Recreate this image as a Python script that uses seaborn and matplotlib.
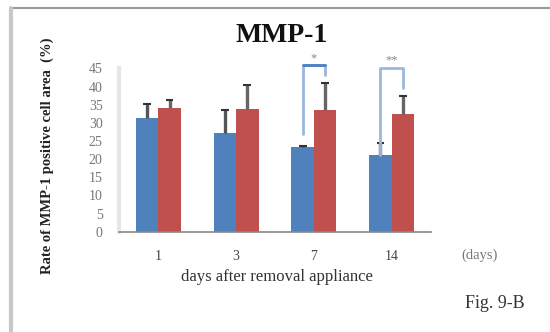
import numpy as np
import pandas as pd
import seaborn as sns
import matplotlib.pyplot as plt
from matplotlib.lines import Line2D

days = ["1", "3", "7", "14"]
groups = ["control", "treated"]
blue_mean = [31.3, 27.2, 23.4, 21.1]
blue_err = [4.0, 6.2, 0.3, 3.3]
red_mean = [34.1, 33.8, 33.6, 32.5]
red_err = [2.1, 6.5, 7.3, 5.0]
yticks = [0, 5, 10, 15, 20, 25, 30, 35, 40, 45]

df = pd.DataFrame({
    "day": days * 2,
    "group": [groups[0]] * 4 + [groups[1]] * 4,
    "rate": blue_mean + red_mean,
    "err": blue_err + red_err,
})

sns.set_style("white")
plt.rcParams["font.family"] = ["Liberation Serif", "DejaVu Serif"]

fig = plt.figure(figsize=(5.5, 3.32), dpi=100)
ax = fig.add_axes([0.217, 0.302, 0.566, 0.492])

sns.barplot(data=df, x="day", y="rate", hue="group", order=days,
            hue_order=groups, palette=["#4F81BD", "#C0504D"],
            width=0.58, gap=0, errorbar=None, legend=False, ax=ax,
            saturation=1, linewidth=0)

# upward-only error bars
w = 0.58 / 2
xs = np.arange(len(days))
for off, mean, err, col in [(-w / 2, blue_mean, blue_err, "#555555"),
                            (w / 2, red_mean, red_err, "#666666")]:
    top = np.array(mean) + np.array(err)
    ax.vlines(xs + off, mean, top, color=col, lw=2.4)
    ax.hlines(top, xs + off - 0.05, xs + off + 0.05, color="#333333", lw=1.5)

ax.set_ylim(0, 45)
ax.set_xlim(-0.5, 3.5)
ax.set_yticks(yticks)
ax.set_yticklabels([str(v) for v in yticks], color="#777777", fontsize=10)
ax.tick_params(axis="y", length=4, direction="in", color="#666666", pad=12)
ax.tick_params(axis="x", length=0, pad=13, labelsize=10, labelcolor="#444444")
ax.set_xticks(xs, days)
ax.set_xticks([0.5, 1.5, 2.5], minor=True)
ax.tick_params(axis="x", which="minor", length=4, direction="in",
               color="#DDDDDD", width=2)
ax.set_xlabel("")
ax.set_ylabel("")
for s in ["top", "right"]:
    ax.spines[s].set_visible(False)
ax.spines["left"].set_color("#E6E6E6")
ax.spines["left"].set_linewidth(3)
ax.spines["bottom"].set_color("#888888")
ax.spines["bottom"].set_linewidth(1.2)

# significance brackets
bc = "#9BB7DD"
ax.plot([2 - w / 2, 2 - w / 2, 2 + w / 2, 2 + w / 2], [27, 45.8, 45.8, 43.2],
        color=bc, lw=2, clip_on=False)
ax.plot([2 - w / 2, 2 + w / 2], [45.8, 45.8], color="#4F7FC0", lw=2, clip_on=False)
ax.text(2, 46.2, "*", ha="center", va="bottom", fontsize=9, color="#888888")
ax.plot([3 - w / 2, 3 - w / 2, 3 + w / 2, 3 + w / 2], [21.1, 45, 45, 39.5],
        color=bc, lw=2, clip_on=False)
ax.text(3, 45.6, "**", ha="center", va="bottom", fontsize=9, color="#888888")

# text
fig.text(282 / 550, 1 - 35 / 332, "MMP-1", ha="center", va="center",
         fontsize=20, fontweight="bold", color="#111111")
fig.text(480 / 550, 1 - 255 / 332, "(days)", ha="center", va="center",
         fontsize=10.5, color="#777777")
fig.text(277 / 550, 1 - 277 / 332, "days after removal appliance",
         ha="center", va="center", fontsize=12, color="#333333")
fig.text(47 / 550, 1 - 156 / 332, "Rate of MMP-1 positive cell area  (%)",
         ha="center", va="center", rotation=90, fontsize=10.5,
         fontweight="bold", color="#222222")
fig.text(495 / 550, 1 - 303 / 332, "Fig. 9-B", ha="center", va="center",
         fontsize=13, color="#333333")

# outer frame
fig.add_artist(Line2D([10.5 / 550, 1], [1 - 8 / 332, 1 - 8 / 332],
                      color="#999999", lw=1.5))
fig.add_artist(Line2D([10.5 / 550, 10.5 / 550], [0, 1 - 8 / 332],
                      color="#C8C8C8", lw=3))

fig.savefig("out.png", dpi=100)
